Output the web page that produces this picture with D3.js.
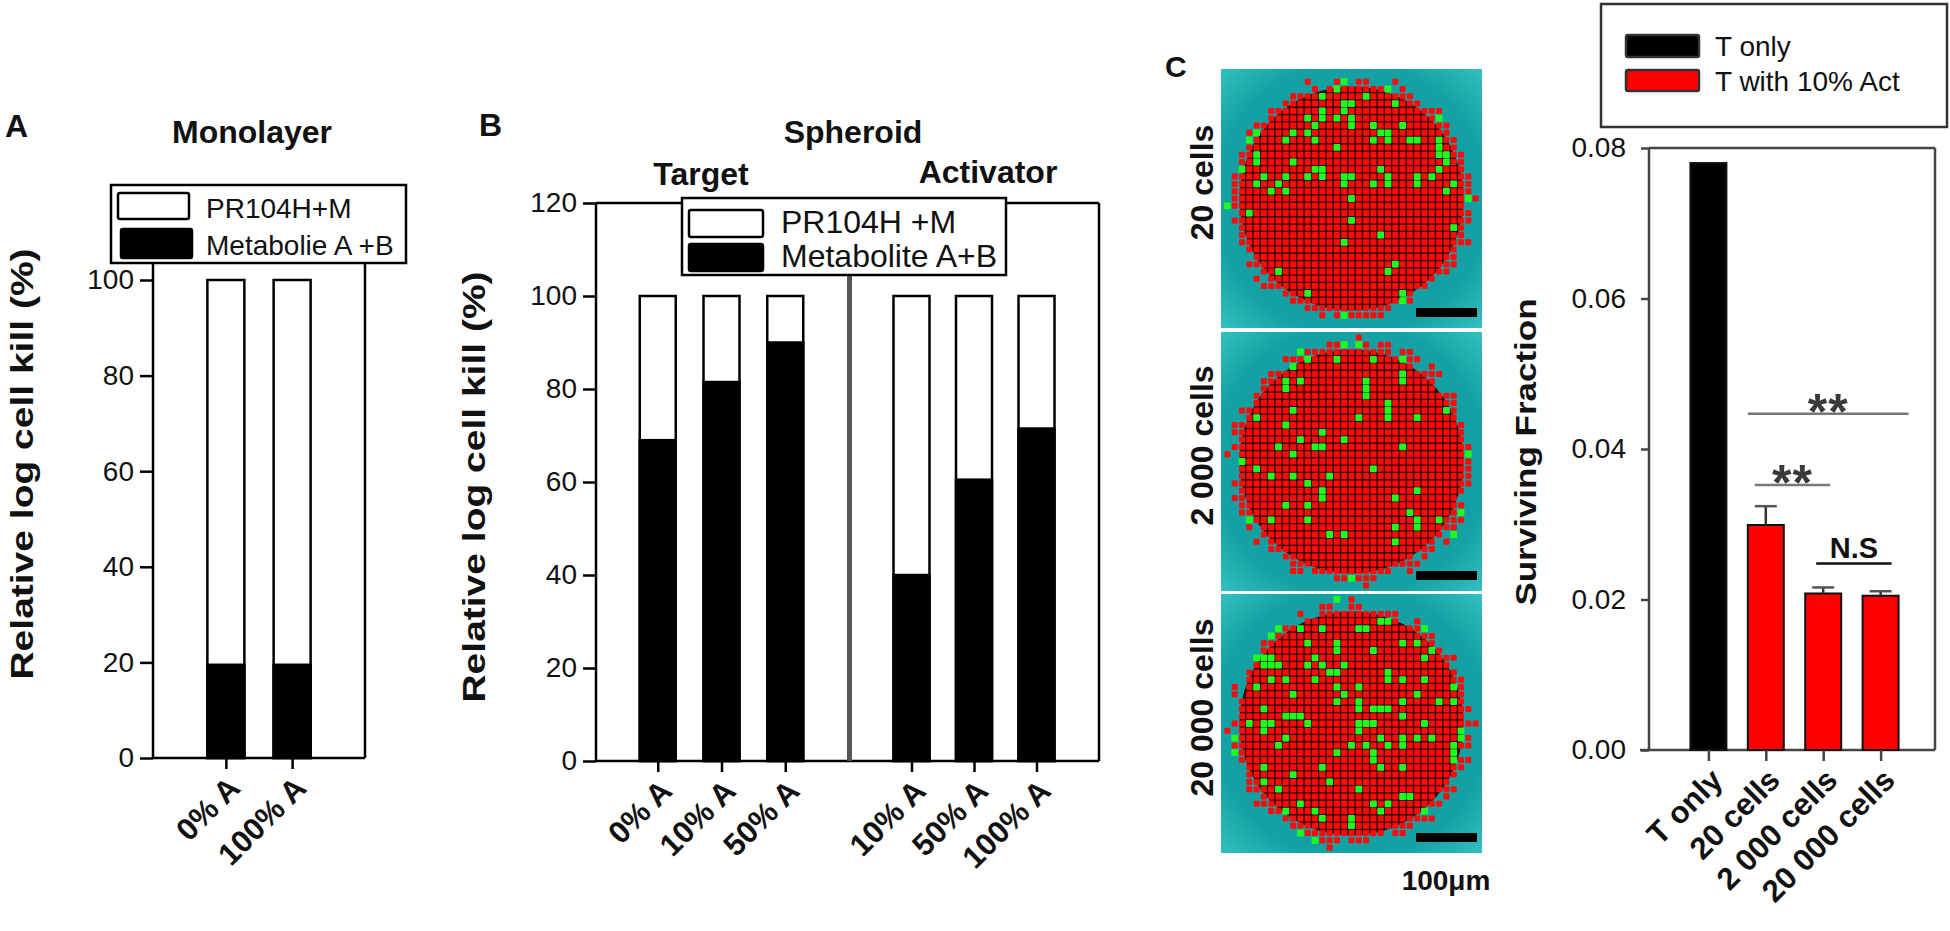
<!DOCTYPE html>
<html>
<head>
<meta charset="utf-8">
<script src="https://cdn.jsdelivr.net/npm/d3@7"></script>
<style>
  body { margin: 0; background: #fff; }
  svg text { font-family: "Liberation Sans", Arial, sans-serif; }
</style>
</head>
<body>
<svg id="fig" width="1950" height="931"></svg>
<script>
// ---- data ----
var monoCats = ["0% A", "100% A"];
var monoMetabolite = [19.5, 19.5];
var targetCats = ["0% A", "10% A", "50% A"];
var targetMetabolite = [69, 81.5, 90];
var activatorCats = ["10% A", "50% A", "100% A"];
var activatorMetabolite = [40, 60.5, 71.5];
var killTotal = 100;
var monoTicks = [0, 20, 40, 60, 80, 100];
var spheroidTicks = [0, 20, 40, 60, 80, 100, 120];

var survCats = ["T only", "20 cells", "2 000 cells", "20 000 cells"];
var survMean = [0.078, 0.0299, 0.0208, 0.0205];
var survErr = [0, 0.0025, 0.0008, 0.0006];
var survTicks = [0, 0.02, 0.04, 0.06, 0.08];
var survColors = ["#000000", "#ff0000", "#ff0000", "#ff0000"];

var sigFrom = ["20 cells", "20 cells", "2 000 cells"];
var sigTo = ["20 000 cells", "2 000 cells", "20 000 cells"];
var sigLevel = [0.0447, 0.0352, 0.0248];
var sigText = ["**", "**", "N.S"];

var imageLabels = ["20 cells", "2 000 cells", "20 000 cells"];
var greenShareTop = [0.17, 0.085, 0.14];
var greenShareBottom = [0.03, 0.075, 0.14];

var svg = d3.select("#fig");
svg.append("rect").attr("width", 1950).attr("height", 931).attr("fill", "#fff");

function label(txt, x, y, size, opts) {
  opts = opts || {};
  return svg.append("text")
    .attr("x", x).attr("y", y)
    .attr("font-size", size)
    .attr("font-weight", opts.bold ? "bold" : "normal")
    .attr("text-anchor", opts.anchor || "start")
    .attr("fill", opts.fill || "#111")
    .text(txt);
}

// rotated title, squeezed across its height like the source figure
function rotLabel(txt, x, y, size, squeeze) {
  svg.append("text")
    .attr("transform", "translate(" + x + "," + y + ") rotate(-90) scale(1," + (squeeze || 1) + ")")
    .attr("text-anchor", "middle")
    .attr("font-size", size).attr("font-weight", "bold").attr("fill", "#111")
    .text(txt);
}

function leftAxis(scale, ticks, x, fmt, color) {
  var ax = svg.append("g")
    .attr("transform", "translate(" + x + ",0)")
    .call(d3.axisLeft(scale).tickValues(ticks).tickSize(13).tickPadding(6).tickFormat(fmt));
  ax.attr("font-family", null);
  ax.select(".domain").remove();
  ax.selectAll("line").attr("stroke", color || "#000").attr("stroke-width", 2.5);
  ax.selectAll("text").attr("font-size", 28).attr("fill", "#111");
  return ax;
}

function bottomTicks(scale, y, cats, color) {
  var ax = svg.append("g")
    .attr("transform", "translate(0," + y + ")")
    .call(d3.axisBottom(scale).tickSize(11).tickFormat(""));
  ax.select(".domain").remove();
  ax.selectAll("line").attr("stroke", color || "#000").attr("stroke-width", 2.5);
  svg.append("g").selectAll("text")
    .data(cats).enter().append("text")
    .attr("transform", function (d) {
      return "translate(" + (scale(d) + 16) + "," + (y + 32) + ") rotate(-45)";
    })
    .attr("text-anchor", "end")
    .attr("font-size", 31).attr("font-weight", "bold").attr("fill", "#111")
    .text(function (d) { return d; });
}

function line(x1, y1, x2, y2, color, w) {
  svg.append("line").attr("x1", x1).attr("y1", y1).attr("x2", x2).attr("y2", y2)
    .attr("stroke", color).attr("stroke-width", w);
}

function stackBars(cats, values, x, y, width) {
  var g = svg.append("g");
  g.selectAll("rect.total").data(cats).enter().append("rect")
    .attr("x", function (d) { return x(d) - width / 2; })
    .attr("y", y(killTotal))
    .attr("width", width)
    .attr("height", y(0) - y(killTotal))
    .attr("fill", "#fff").attr("stroke", "#000").attr("stroke-width", 2.5);
  g.selectAll("rect.met").data(cats).enter().append("rect")
    .attr("x", function (d) { return x(d) - width / 2; })
    .attr("y", function (d, i) { return y(values[i]); })
    .attr("width", width)
    .attr("height", function (d, i) { return y(0) - y(values[i]); })
    .attr("fill", "#000").attr("stroke", "#000").attr("stroke-width", 2.5);
}

function legendBox(x, y, w, h, stroke) {
  svg.append("rect").attr("x", x).attr("y", y).attr("width", w).attr("height", h)
    .attr("fill", "#fff").attr("stroke", stroke).attr("stroke-width", 2.5);
}

function swatch(x, y, w, h, fill, stroke) {
  svg.append("rect").attr("x", x).attr("y", y).attr("width", w).attr("height", h)
    .attr("rx", 2).attr("fill", fill).attr("stroke", stroke).attr("stroke-width", 2.5);
}

// ================= Panel A : Monolayer =================
var yA = d3.scaleLinear().domain([0, 100]).range([758, 280]);
var xA = d3.scalePoint().domain(monoCats).range([153, 365]).padding(1.1);

label("A", 5, 137, 32, { bold: true });
label("Monolayer", 252, 143, 32, { bold: true, anchor: "middle" });
rotLabel("Relative log cell kill (%)", 33, 464, 39, 0.8);

line(153, 250, 153, yA(0), "#000", 2.5);
line(365, 250, 365, yA(0), "#000", 2.5);
line(153, yA(0), 365, yA(0), "#000", 2.5);
leftAxis(yA, monoTicks, 153, d3.format("d"));
stackBars(monoCats, monoMetabolite, xA, yA, 37);
bottomTicks(xA, yA(0), monoCats);

legendBox(111, 185, 295, 78, "#000");
swatch(118, 193, 71, 26, "#fff", "#000");
swatch(121, 229, 71, 29, "#000", "#000");
label("PR104H+M", 206, 218, 28);
label("Metabolie A +B", 206, 255, 28);

// ================= Panel B : Spheroid =================
var yB = d3.scaleLinear().domain([0, 120]).range([761, 203]);
var xT = d3.scalePoint().domain(targetCats).range([594, 849]).padding(1);
var xAct = d3.scalePoint().domain(activatorCats).range([849, 1099]).padding(1);

label("B", 479, 136, 32, { bold: true });
label("Spheroid", 853, 143, 32, { bold: true, anchor: "middle" });
label("Target", 701, 185, 32, { bold: true, anchor: "middle" });
label("Activator", 988, 183, 32, { bold: true, anchor: "middle" });
rotLabel("Relative log cell kill (%)", 485, 487, 39, 0.8);

line(596, yB(120), 1099, yB(120), "#000", 2.5);
line(596, yB(120), 596, yB(0), "#000", 2.5);
line(1099, yB(120), 1099, yB(0), "#000", 2.5);
line(596, yB(0), 1099, yB(0), "#000", 2.5);
leftAxis(yB, spheroidTicks, 596, d3.format("d"));
stackBars(targetCats, targetMetabolite, xT, yB, 36);
stackBars(activatorCats, activatorMetabolite, xAct, yB, 36);
svg.append("rect").attr("x", 847).attr("y", 272).attr("width", 5)
  .attr("height", yB(0) - 272).attr("fill", "#555");
bottomTicks(xT, yB(0), targetCats);
bottomTicks(xAct, yB(0), activatorCats);

legendBox(682, 198, 324, 77, "#000");
swatch(689, 210, 74, 27, "#fff", "#000");
swatch(689, 244, 74, 27, "#000", "#000");
label("PR104H +M", 781, 233, 32);
label("Metabolite A+B", 781, 267, 32);

// ================= Panel C : images =================
label("C", 1165, 77, 30, { bold: true });

var defs = svg.append("defs");
var grad = defs.append("radialGradient").attr("id", "teal")
  .attr("cx", "50%").attr("cy", "50%").attr("r", "75%");
grad.append("stop").attr("offset", "0%").attr("stop-color", "#0a9294");
grad.append("stop").attr("offset", "70%").attr("stop-color", "#14a2a4");
grad.append("stop").attr("offset", "100%").attr("stop-color", "#3cc6c7");

function cellHash(i, j, s) {
  var h = Math.sin(i * 127.1 + j * 311.7 + s * 74.7) * 43758.5453;
  return h - Math.floor(h);
}

var imgTop = [69, 332, 594];
var imgX = 1221, imgW = 261, imgH = 259;
var pitch = 7.3, cellR = 121;

imgTop.forEach(function (top, k) {
  var g = svg.append("g");
  var cx = imgX + imgW / 2, cy = top + imgH / 2;
  g.append("rect").attr("x", imgX).attr("y", top).attr("width", imgW).attr("height", imgH)
    .attr("fill", "url(#teal)");
  g.append("circle").attr("cx", cx).attr("cy", cy).attr("r", cellR - 9).attr("fill", "#360606");
  var cells = [];
  for (var i = -17; i <= 17; i++) {
    for (var j = -17; j <= 17; j++) {
      var dx = i * pitch, dy = j * pitch;
      var jag = cellHash(i, j, k + 11) * 14;
      if (Math.sqrt(dx * dx + dy * dy) < cellR - jag + 6) {
        var share = dy < 0 ? greenShareTop[k] : greenShareBottom[k];
        cells.push({ x: cx + dx, y: cy + dy, green: cellHash(i, j, k + 3) < share });
      }
    }
  }
  cells.sort(function (a, b) { return a.green - b.green; });
  g.selectAll("rect.cell").data(cells).enter().append("rect")
    .attr("x", function (d) { return d.x - (d.green ? 3.4 : 3); })
    .attr("y", function (d) { return d.y - (d.green ? 3.4 : 3); })
    .attr("width", function (d) { return d.green ? 6.8 : 6; })
    .attr("height", function (d) { return d.green ? 6.8 : 6; })
    .attr("rx", 1)
    .attr("fill", function (d) { return d.green ? "#1cff1c" : "#ff0a0a"; });
  g.append("rect").attr("x", 1416).attr("y", top + imgH - 20).attr("width", 61).attr("height", 9)
    .attr("fill", "#000");
  rotLabel(imageLabels[k], 1213, cy - 16, 32, 1);
});
label("100μm", 1446, 890, 28, { bold: true, anchor: "middle" });

// ================= Panel C : surviving fraction =================
var yC = d3.scaleLinear().domain([0, 0.08]).range([750, 148]);
var xC = d3.scalePoint().domain(survCats).range([1651, 1938]).padding(1);

rotLabel("Surviving Fraction", 1536, 452, 35, 0.85);
line(1649, 148, 1935, 148, "#444", 2.5);
line(1649, 148, 1649, 750, "#444", 2.5);
line(1935, 148, 1935, 750, "#444", 2.5);
line(1640, 750, 1935, 750, "#444", 2.5);
var axC = leftAxis(yC, survTicks, 1649, d3.format(".2f"), "#444");
axC.selectAll("line").attr("x2", -8);
axC.selectAll("text").attr("x", -23);

svg.append("g").selectAll("rect").data(survCats).enter().append("rect")
  .attr("x", function (d) { return xC(d) - 18; })
  .attr("y", function (d, i) { return yC(survMean[i]); })
  .attr("width", 36)
  .attr("height", function (d, i) { return yC(0) - yC(survMean[i]); })
  .attr("fill", function (d, i) { return survColors[i]; })
  .attr("stroke", "#111").attr("stroke-width", 2);

survCats.forEach(function (d, i) {
  if (!survErr[i]) return;
  var top = yC(survMean[i] + survErr[i]);
  line(xC(d), yC(survMean[i]), xC(d), top, "#333", 2.5);
  line(xC(d) - 11, top, xC(d) + 11, top, "#555", 2.5);
});
bottomTicks(xC, 750, survCats, "#444");

sigText.forEach(function (t, i) {
  var x1 = xC(sigFrom[i]), x2 = xC(sigTo[i]);
  var y = yC(sigLevel[i]);
  var a, b, col;
  if (t === "N.S") { a = x1 - 7; b = x2 + 11; col = "#111"; }
  else if (i === 0) { a = x1 - 18; b = x2 + 28; col = "#777"; }
  else { a = x1 - 11; b = x2 + 7; col = "#777"; }
  line(a, y, b, y, col, 2.5);
  if (t === "N.S") {
    label(t, (a + b) / 2, y - 5, 29, { bold: true, anchor: "middle" });
  } else {
    label(t, (a + b) / 2, y + 15, 50, { bold: true, anchor: "middle", fill: "#3a3a3a" })
      .attr("letter-spacing", 1);
  }
});

legendBox(1601, 4, 346, 123, "#333");
swatch(1626, 35, 73, 22, "#000", "#333");
swatch(1626, 70, 73, 21, "#ff0000", "#333");
label("T only", 1715, 56, 28);
label("T with 10% Act", 1715, 91, 28);
</script>
</body>
</html>
